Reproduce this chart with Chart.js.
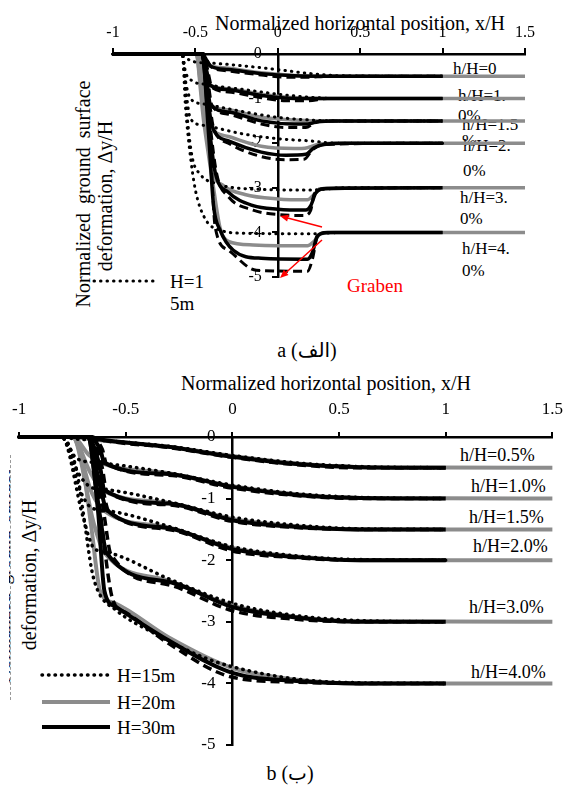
<!DOCTYPE html>
<html>
<head>
<meta charset="utf-8">
<script src="https://cdn.jsdelivr.net/npm/chart.js@4.4.1/dist/chart.umd.min.js"></script>
<style>
    body { margin: 0; background: #fff; width: 575px; height: 789px; position: relative; overflow: hidden;
           font-family: "Liberation Serif", "Times New Roman", "DejaVu Sans", serif; color: #000; }
    canvas { position: absolute; left: 0; z-index: 2; }
    .t { position: absolute; white-space: nowrap; line-height: 1; z-index: 1; transform: translateY(-50%); }
    .c { transform: translate(-50%, -50%); }
    .rot { transform: translate(-50%, -50%) rotate(-90deg); }
</style>
</head>
<body>

<canvas id="chartA" width="575" height="310" style="top:0"></canvas>
<canvas id="chartB" width="575" height="400" style="top:370px"></canvas>

<!-- chart a texts -->
<div class="t" style="left:215px;top:23px;font-size:20px">Normalized horizontal position, x/H</div>
<div class="t rot" style="left:83px;top:194px;font-size:20px;word-spacing:4px">Normalized ground surface</div>
<div class="t rot" style="left:105px;top:196px;font-size:20px">deformation, Δy/H</div>
<div class="t" style="left:170px;top:281px;font-size:19px">H=1</div>
<div class="t" style="left:170px;top:303px;font-size:19px">5m</div>
<div class="t" style="left:347px;top:285px;font-size:19px;color:#f00">Graben</div>
<div class="t" style="left:453px;top:68px;font-size:17px">h/H=0</div>
<div class="t" style="left:458px;top:95px;font-size:17px">h/H=1.</div>
<div class="t" style="left:458px;top:115px;font-size:17px">0%</div>
<div class="t" style="left:462px;top:124px;font-size:17px">h/H=1.5</div>
<div class="t" style="left:462px;top:140px;font-size:17px">%</div>
<div class="t" style="left:463px;top:145px;font-size:17px">h/H=2.</div>
<div class="t" style="left:463px;top:170px;font-size:17px">0%</div>
<div class="t" style="left:460px;top:197px;font-size:17px">h/H=3.</div>
<div class="t" style="left:460px;top:218px;font-size:17px">0%</div>
<div class="t" style="left:462px;top:248px;font-size:17px">h/H=4.</div>
<div class="t" style="left:462px;top:270px;font-size:17px">0%</div>
<div class="t c" style="left:307px;top:350px;font-size:20px">a (الف)</div>

<!-- chart b texts -->
<div class="t" style="left:181px;top:383px;font-size:20px">Normalized horizontal position, x/H</div>
<div style="position:absolute;left:9px;top:470px;width:7px;height:220px;overflow:hidden;z-index:1">
    <div class="t rot" style="left:-6px;top:105px;font-size:19px;word-spacing:4px">Normalized ground surface</div>
</div>
<div class="t rot" style="left:29px;top:575px;font-size:20px">deformation, Δy/H</div>
<div style="position:absolute;left:10px;top:455px;height:245px;border-left:1px dashed #999;z-index:1"></div>
<div class="t" style="left:117px;top:675px;font-size:19px">H=15m</div>
<div class="t" style="left:117px;top:702px;font-size:19px">H=20m</div>
<div class="t" style="left:117px;top:727px;font-size:19px">H=30m</div>
<div class="t" style="left:460px;top:455px;font-size:18px">h/H=0.5%</div>
<div class="t" style="left:471px;top:486px;font-size:18px">h/H=1.0%</div>
<div class="t" style="left:469px;top:517px;font-size:18px">h/H=1.5%</div>
<div class="t" style="left:473px;top:546px;font-size:18px">h/H=2.0%</div>
<div class="t" style="left:469px;top:607px;font-size:18px">h/H=3.0%</div>
<div class="t" style="left:471px;top:672px;font-size:18px">h/H=4.0%</div>
<div class="t c" style="left:290px;top:773px;font-size:20px">b (ب)</div>

<script>
// ---------------------------------------------------------------------------
// Data, chart a  (points are [x/H, dy/H])
// ---------------------------------------------------------------------------
const aH15_05 = [[-1,0],[-0.57,0],[-0.55,-0.1],[-0.5,-0.18],[-0.42,-0.2],[-0.2,-0.27],[0,-0.35],[0.2,-0.44],[0.4,-0.49],[1,-0.5]];
const aH20_05 = [[-1,0],[-0.5,0],[-0.46,-0.1],[-0.42,-0.25],[-0.3,-0.32],[-0.1,-0.42],[0.1,-0.48],[0.3,-0.5],[1.5,-0.5]];
const aH30_05 = [[-1,0],[-0.46,0],[-0.43,-0.15],[-0.41,-0.27],[-0.3,-0.35],[-0.1,-0.44],[0.1,-0.49],[0.3,-0.5],[1,-0.5]];
const aDsh_05 = [[-1,0],[-0.45,0],[-0.42,-0.2],[-0.4,-0.3],[-0.3,-0.38],[-0.1,-0.47],[0.05,-0.52],[0.18,-0.52],[0.3,-0.5],[1,-0.5]];

const aH15_10 = [[-1,0],[-0.58,0],[-0.56,-0.4],[-0.52,-0.6],[-0.44,-0.68],[-0.2,-0.8],[0,-0.9],[0.2,-0.97],[0.4,-1],[1,-1]];
const aH20_10 = [[-1,0],[-0.5,0],[-0.46,-0.3],[-0.42,-0.68],[-0.3,-0.78],[-0.1,-0.9],[0.1,-0.98],[0.3,-1],[1.5,-1]];
const aH30_10 = [[-1,0],[-0.46,0],[-0.43,-0.4],[-0.41,-0.7],[-0.3,-0.8],[-0.1,-0.93],[0.1,-1],[0.3,-1],[1,-1]];
const aDsh_10 = [[-1,0],[-0.45,0],[-0.42,-0.45],[-0.4,-0.75],[-0.3,-0.85],[-0.1,-0.98],[0.05,-1.05],[0.18,-1.05],[0.3,-1],[1,-1]];

const aH15_15 = [[-1,0],[-0.58,0],[-0.56,-0.6],[-0.53,-1],[-0.45,-1.12],[-0.2,-1.3],[0,-1.42],[0.2,-1.48],[0.4,-1.5],[1,-1.5]];
const aH20_15 = [[-1,0],[-0.5,0],[-0.46,-0.5],[-0.42,-1.1],[-0.3,-1.25],[-0.1,-1.42],[0.1,-1.48],[0.3,-1.5],[1.5,-1.5]];
const aH30_15 = [[-1,0],[-0.46,0],[-0.43,-0.6],[-0.41,-1.12],[-0.3,-1.3],[-0.1,-1.5],[0.1,-1.57],[0.18,-1.57],[0.24,-1.52],[0.35,-1.5],[1,-1.5]];
const aDsh_15 = [[-1,0],[-0.45,0],[-0.42,-0.7],[-0.4,-1.15],[-0.3,-1.35],[-0.1,-1.57],[0.05,-1.65],[0.17,-1.65],[0.22,-1.55],[0.3,-1.5],[1,-1.5]];

const aH15_20 = [[-1,0],[-0.58,0],[-0.555,-0.9],[-0.53,-1.45],[-0.45,-1.6],[-0.2,-1.8],[0,-1.9],[0.2,-1.95],[0.35,-2],[1,-2]];
const aH20_20 = [[-1,0],[-0.5,0],[-0.46,-0.7],[-0.42,-1.55],[-0.3,-1.85],[-0.1,-2.07],[0.1,-2.12],[0.18,-2.1],[0.25,-2.02],[0.35,-2],[1.5,-2]];
const aH30_20 = [[-1,0],[-0.46,0],[-0.43,-0.8],[-0.4,-1.6],[-0.3,-1.95],[-0.1,-2.2],[0.05,-2.27],[0.17,-2.25],[0.22,-2.1],[0.28,-2.03],[0.4,-2],[1,-2]];
const aDsh_20 = [[-1,0],[-0.45,0],[-0.42,-0.9],[-0.39,-1.65],[-0.3,-2],[-0.1,-2.3],[0.05,-2.37],[0.16,-2.36],[0.21,-2.15],[0.28,-2.03],[1,-2]];

const aH15_30 = [[-1,0],[-0.58,0],[-0.55,-1.4],[-0.52,-2.3],[-0.47,-2.7],[-0.38,-2.9],[-0.2,-3.02],[0.2,-3.05],[0.4,-3],[1,-3]];
const aH20_30 = [[-1,0],[-0.5,0],[-0.45,-1.3],[-0.4,-2.6],[-0.33,-2.95],[-0.2,-3.15],[0,-3.25],[0.18,-3.27],[0.22,-3.15],[0.26,-3.03],[0.35,-3],[1.5,-3]];
const aH30_30 = [[-1,0],[-0.46,0],[-0.42,-1.5],[-0.38,-2.65],[-0.3,-3.1],[-0.15,-3.4],[0,-3.48],[0.17,-3.5],[0.2,-3.4],[0.23,-3.12],[0.28,-3.02],[1,-3]];
const aDsh_30 = [[-1,0],[-0.45,0],[-0.41,-1.6],[-0.37,-2.7],[-0.3,-3.2],[-0.15,-3.5],[0,-3.6],[0.16,-3.62],[0.2,-3.5],[0.22,-3.15],[0.27,-3.02],[1,-3]];

const aH15_40 = [[-1,0],[-0.58,0],[-0.56,-1.2],[-0.535,-2.15],[-0.5,-3.05],[-0.44,-3.7],[-0.35,-3.95],[-0.2,-4.02],[0.2,-4.03],[0.4,-4],[1,-4]];
const aH20_40 = [[-1,0],[-0.5,0],[-0.45,-1.5],[-0.39,-3],[-0.35,-3.9],[-0.3,-4.2],[-0.15,-4.28],[0.18,-4.3],[0.22,-4.2],[0.26,-4.03],[0.35,-4],[1.5,-4]];
const aH30_40 = [[-1,0],[-0.46,0],[-0.42,-1.8],[-0.39,-3.4],[-0.35,-3.95],[-0.27,-4.4],[-0.1,-4.58],[0.18,-4.6],[0.21,-4.45],[0.24,-4.08],[0.3,-4],[1,-4]];
const aDsh_40 = [[-1,0],[-0.45,0],[-0.41,-2],[-0.38,-3.88],[-0.3,-4.4],[-0.13,-4.85],[0.18,-4.87],[0.21,-4.6],[0.24,-4.1],[0.3,-4],[1,-4]];

// ---------------------------------------------------------------------------
// Data, chart b
// ---------------------------------------------------------------------------
const bH15_05 = [[-1,0],[-0.8,0],[-0.74,-0.03],[-0.6,-0.06],[-0.3,-0.15],[0,-0.3],[0.3,-0.42],[0.6,-0.48],[1,-0.5]];
const bH20_05 = [[-1,0],[-0.75,0],[-0.68,-0.03],[-0.6,-0.06],[-0.3,-0.16],[0,-0.31],[0.3,-0.43],[0.6,-0.49],[1.5,-0.5]];
const bH30_05 = [[-1,0],[-0.68,0],[-0.62,-0.04],[-0.3,-0.16],[0,-0.32],[0.3,-0.44],[0.6,-0.49],[1,-0.5]];
const bDsh_05 = [[-1,0],[-0.66,0],[-0.61,-0.05],[-0.3,-0.17],[0,-0.33],[0.3,-0.45],[0.6,-0.5],[1,-0.5]];

const bH15_10 = [[-1,0],[-0.8,0],[-0.73,-0.35],[-0.62,-0.42],[-0.3,-0.58],[0,-0.78],[0.3,-0.92],[0.6,-0.98],[1,-1]];
const bH20_10 = [[-1,0],[-0.75,0],[-0.67,-0.3],[-0.61,-0.43],[-0.3,-0.59],[0,-0.8],[0.3,-0.93],[0.6,-0.99],[1.5,-1]];
const bH30_10 = [[-1,0],[-0.68,0],[-0.62,-0.2],[-0.6,-0.42],[-0.3,-0.6],[0,-0.81],[0.3,-0.94],[0.6,-0.99],[1,-1]];
const bDsh_10 = [[-1,0],[-0.66,0],[-0.61,-0.2],[-0.59,-0.43],[-0.3,-0.62],[0,-0.83],[0.3,-0.95],[0.6,-1],[1,-1]];

const bH15_15 = [[-1,0],[-0.8,0],[-0.72,-0.6],[-0.66,-0.82],[-0.6,-0.85],[-0.3,-1.05],[0,-1.3],[0.3,-1.43],[0.6,-1.49],[1,-1.5]];
const bH20_15 = [[-1,0],[-0.75,0],[-0.67,-0.55],[-0.61,-0.86],[-0.3,-1.07],[0,-1.33],[0.3,-1.45],[0.6,-1.5],[1.5,-1.5]];
const bH30_15 = [[-1,0],[-0.68,0],[-0.62,-0.5],[-0.6,-0.86],[-0.3,-1.08],[0,-1.35],[0.3,-1.46],[0.6,-1.5],[1,-1.5]];
const bDsh_15 = [[-1,0],[-0.66,0],[-0.61,-0.5],[-0.59,-0.88],[-0.3,-1.1],[0,-1.37],[0.3,-1.47],[0.6,-1.5],[1,-1.5]];

const bH15_20 = [[-1,0],[-0.8,0],[-0.71,-0.9],[-0.66,-1.15],[-0.58,-1.2],[-0.3,-1.45],[0,-1.78],[0.3,-1.93],[0.6,-1.99],[1,-2]];
const bH20_20 = [[-1,0],[-0.75,0],[-0.66,-0.9],[-0.6,-1.2],[-0.3,-1.47],[0,-1.8],[0.3,-1.94],[0.6,-2],[1.5,-2]];
const bH30_20 = [[-1,0],[-0.68,0],[-0.62,-0.8],[-0.59,-1.18],[-0.3,-1.48],[0,-1.82],[0.3,-1.95],[0.6,-2],[1,-2]];
const bDsh_20 = [[-1,0],[-0.66,0],[-0.61,-0.8],[-0.58,-1.2],[-0.3,-1.5],[0,-1.85],[0.3,-1.96],[0.6,-2],[1,-2]];

const bH15_30 = [[-1,0],[-0.8,0],[-0.7,-1.3],[-0.65,-1.8],[-0.58,-1.88],[-0.3,-2.3],[0,-2.7],[0.3,-2.9],[0.6,-2.98],[1,-3]];
const bH20_30 = [[-1,0],[-0.75,0],[-0.65,-1.4],[-0.6,-1.88],[-0.3,-2.33],[0,-2.74],[0.3,-2.92],[0.6,-2.99],[1.5,-3]];
const bH30_30 = [[-1,0],[-0.68,0],[-0.62,-1.3],[-0.59,-1.88],[-0.3,-2.35],[0,-2.76],[0.3,-2.93],[0.6,-3],[1,-3]];
const bDsh_30 = [[-1,0],[-0.66,0],[-0.6,-1.3],[-0.57,-1.9],[-0.3,-2.4],[0,-2.82],[0.3,-2.96],[0.6,-3],[1,-3]];

const bH15_40 = [[-1,0],[-0.8,0],[-0.73,-0.55],[-0.69,-1.45],[-0.66,-2.15],[-0.63,-2.5],[-0.55,-2.8],[-0.37,-3.18],[-0.14,-3.57],[0,-3.73],[0.3,-3.93],[0.6,-3.99],[1,-4]];
const bH20_40 = [[-1,0],[-0.75,0],[-0.7,-0.5],[-0.66,-1.5],[-0.62,-2.5],[-0.55,-2.7],[-0.3,-3.25],[0,-3.75],[0.3,-3.94],[0.6,-4],[1.5,-4]];
const bH30_40 = [[-1,0],[-0.68,0],[-0.63,-1.2],[-0.6,-2.5],[-0.55,-2.75],[-0.3,-3.3],[0,-3.83],[0.3,-3.96],[0.6,-4],[1,-4]];
const bDsh_40 = [[-1,0],[-0.66,0],[-0.62,-1.2],[-0.56,-2.65],[-0.5,-2.85],[-0.3,-3.35],[0,-3.9],[0.3,-3.98],[0.6,-4],[1,-4]];

const xTicks = [-1, -0.5, 0, 0.5, 1, 1.5];
const yTicks = [0, -1, -2, -3, -4, -5];

const levelsA = [
    [aH15_05, aH20_05, aH30_05, aDsh_05],
    [aH15_10, aH20_10, aH30_10, aDsh_10],
    [aH15_15, aH20_15, aH30_15, aDsh_15],
    [aH15_20, aH20_20, aH30_20, aDsh_20],
    [aH15_30, aH20_30, aH30_30, aDsh_30],
    [aH15_40, aH20_40, aH30_40, aDsh_40]
];
const levelsB = [
    [bH15_05, bH20_05, bH30_05, bDsh_05],
    [bH15_10, bH20_10, bH30_10, bDsh_10],
    [bH15_15, bH20_15, bH30_15, bDsh_15],
    [bH15_20, bH20_20, bH30_20, bDsh_20],
    [bH15_30, bH20_30, bH30_30, bDsh_30],
    [bH15_40, bH20_40, bH30_40, bDsh_40]
];

// ---------------------------------------------------------------------------
// Styles
// ---------------------------------------------------------------------------
const GRAY = '#8c8c8c';
const FONT = '"Liberation Serif", "Times New Roman", serif';

Chart.defaults.font.family = FONT;
Chart.defaults.color = '#000';

// dotted H=15m, gray H=20m, black H=30m, dashed
function seriesStyle(w) {
    return [
        { borderColor: '#000', borderWidth: w - 0.5, borderDash: [0.5, 6], borderCapStyle: 'round', order: 1 },
        { borderColor: GRAY, borderWidth: w, order: 3 },
        { borderColor: '#000', borderWidth: w, order: 0 },
        { borderColor: '#000', borderWidth: w - 0.5, borderDash: [9, 5], order: 2 }
    ];
}

function buildSets(levels, w) {
    const st = seriesStyle(w);
    const sets = [];
    levels.forEach(group => {
        group.forEach((pts, i) => {
            sets.push({
                data: pts,
                ...st[i],
                pointRadius: 0,
                fill: false,
                cubicInterpolationMode: 'monotone',
                clip: 8
            });
        });
    });
    return sets;
}

// y labels sit right-aligned on the axis line, so pad them with trailing spaces
function axisOptions(axisHeight, fontSize, xTickLen, xPad) {
    return {
        x: {
            type: 'linear', position: 'top', min: -1, max: 1.5,
            afterBuildTicks: s => { s.ticks = xTicks.map(v => ({ value: v })); },
            afterFit: s => { s.height = axisHeight; },
            ticks: { font: { size: fontSize }, padding: xPad, maxRotation: 0, autoSkip: false,
                     callback: v => String(v) },
            grid: { drawOnChartArea: false, drawTicks: true, tickLength: xTickLen, color: '#000', lineWidth: 2 },
            border: { display: true, color: '#000', width: 2.5 }
        },
        y: {
            type: 'linear', position: { x: 0 }, min: -5, max: 0,
            afterBuildTicks: s => { s.ticks = yTicks.map(v => ({ value: v })); },
            ticks: { font: { size: fontSize }, callback: v => String(v) + '    ' },
            grid: { drawOnChartArea: false, drawTicks: true, tickLength: 5, color: '#000', lineWidth: 2 },
            border: { display: true, color: '#000', width: 2.5 }
        }
    };
}

// legend samples and arrows (no data marks here)
function sample(ctx, x1, x2, y, kind, w) {
    ctx.save();
    ctx.beginPath();
    ctx.moveTo(x1, y);
    ctx.lineTo(x2, y);
    if (kind === 'dot') { ctx.setLineDash([0.5, 6]); ctx.lineCap = 'round'; ctx.strokeStyle = '#000'; ctx.lineWidth = w - 0.5; }
    else if (kind === 'gray') { ctx.strokeStyle = GRAY; ctx.lineWidth = w; }
    else { ctx.strokeStyle = '#000'; ctx.lineWidth = w; }
    ctx.stroke();
    ctx.restore();
}

function arrow(ctx, x1, y1, x2, y2) {
    const a = Math.atan2(y2 - y1, x2 - x1);
    ctx.save();
    ctx.strokeStyle = '#f00';
    ctx.fillStyle = '#f00';
    ctx.lineWidth = 1.5;
    ctx.beginPath();
    ctx.moveTo(x1, y1);
    ctx.lineTo(x2 - 6 * Math.cos(a), y2 - 6 * Math.sin(a));
    ctx.stroke();
    ctx.beginPath();
    ctx.moveTo(x2, y2);
    ctx.lineTo(x2 - 9 * Math.cos(a - 0.4), y2 - 9 * Math.sin(a - 0.4));
    ctx.lineTo(x2 - 9 * Math.cos(a + 0.4), y2 - 9 * Math.sin(a + 0.4));
    ctx.closePath();
    ctx.fill();
    ctx.restore();
}

const decorA = {
    id: 'decorA',
    afterDraw(chart) {
        const ctx = chart.ctx;
        sample(ctx, 94, 158, 281, 'dot', 3.5);
        arrow(ctx, 322, 227, 280, 216);
        arrow(ctx, 322, 240, 280, 278);
    }
};

const decorB = {
    id: 'decorB',
    afterDraw(chart) {
        const ctx = chart.ctx;
        sample(ctx, 42, 110, 305, 'dot', 4);
        sample(ctx, 42, 110, 332, 'gray', 4);
        sample(ctx, 42, 110, 357, 'black', 4);
    }
};

new Chart(document.getElementById('chartA'), {
    type: 'line',
    data: { datasets: buildSets(levelsA, 3.5) },
    options: {
        responsive: false,
        animation: false,
        layout: { padding: { left: 113, right: 50, top: 0, bottom: 33 } },
        plugins: { legend: { display: false }, tooltip: { enabled: false } },
        scales: axisOptions(54, 16, 6, 6)
    },
    plugins: [decorA]
});

new Chart(document.getElementById('chartB'), {
    type: 'line',
    data: { datasets: buildSets(levelsB, 4) },
    options: {
        responsive: false,
        animation: false,
        layout: { padding: { left: 10, right: 10, top: 0, bottom: 25 } },
        plugins: { legend: { display: false }, tooltip: { enabled: false } },
        scales: axisOptions(67, 17, 5, 12)
    },
    plugins: [decorB]
});
</script>
</body>
</html>
